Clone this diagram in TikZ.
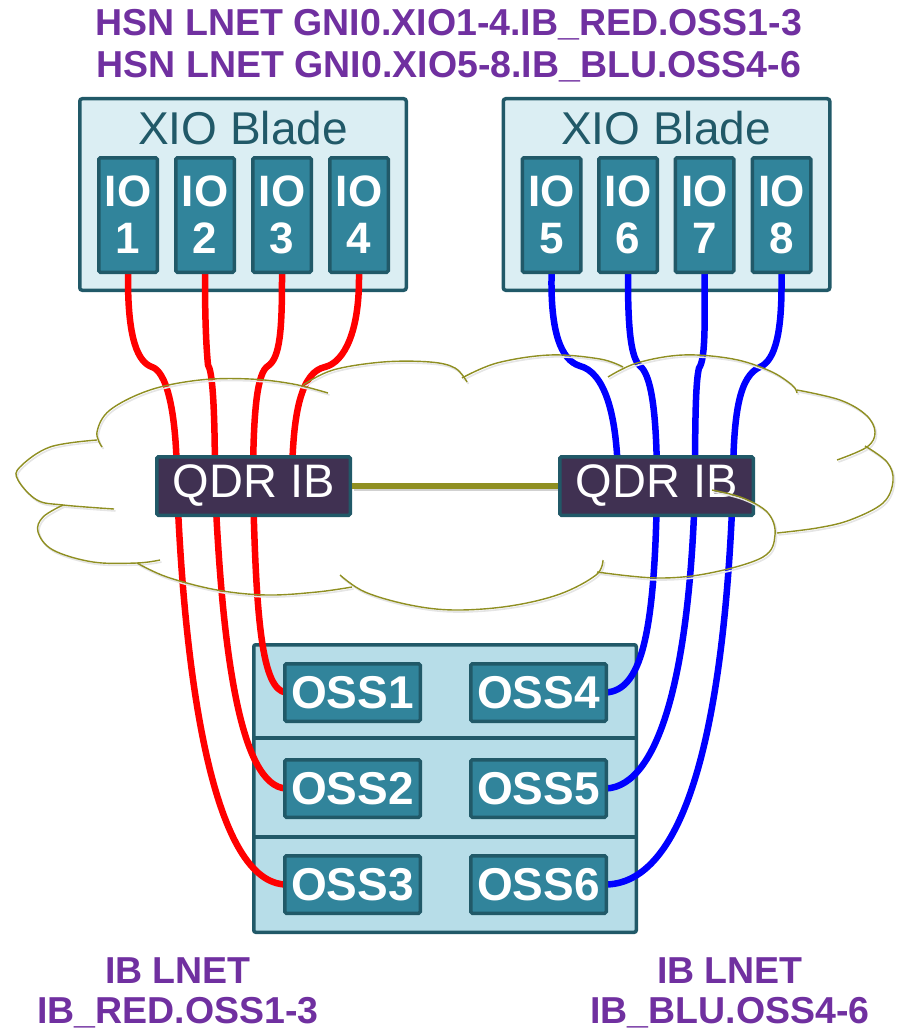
\documentclass[tikz,border=0pt]{standalone}
\usepackage{fontspec}
\setmainfont{Liberation Sans}
\usetikzlibrary{calc}
\definecolor{ttlpurple}{HTML}{7030A0}
\definecolor{darkteal}{HTML}{215968}
\definecolor{iofill}{HTML}{31849B}
\definecolor{bladefill}{HTML}{DBEEF3}
\definecolor{ossfill}{HTML}{B7DDE8}
\definecolor{qdrfill}{HTML}{403152}
\definecolor{cloudolive}{HTML}{8F8F22}
\definecolor{redcable}{HTML}{FF0000}
\definecolor{bluecable}{HTML}{0000FF}
\newcommand{\cloudoutline}[1]{%
  \draw[#1] plot[smooth, tension=0.6] coordinates {(102,447) (97,432) (110,410) (150,390) (200,380) (250,379) (293,384) (328,393)};
  \draw[#1] plot[smooth, tension=0.6] coordinates {(303,385) (333,370) (383,362) (430,362) (455,368) (467,382)};
  \draw[#1] plot[smooth, tension=0.6] coordinates {(462,378) (497,363) (550,355) (600,359) (623,367)};
  \draw[#1] plot[smooth, tension=0.6] coordinates {(608,377) (637,363) (683,355) (733,359) (770,371) (792,385) (797,393)};
  \draw[#1] plot[smooth, tension=0.6] coordinates {(797,390) (840,400) (866,415) (875,432) (867,447) (837,460)};
  \draw[#1] plot[smooth, tension=0.6] coordinates {(865,446) (887,462) (893,481) (883,503) (850,520) (817,528) (777,533)};
  \draw[#1] plot[smooth, tension=0.6] coordinates {(712,490) (743,498) (768,513) (775,535) (763,557) (710,573) (657,578) (597,572)};
  \draw[#1] plot[smooth, tension=0.6] coordinates {(340,575) (365,592) (410,605) (455,610) (510,606) (560,594) (596,575) (603,560)};
  \draw[#1] plot[smooth, tension=0.6] coordinates {(352,587) (317,592) (267,595) (217,590) (167,577) (137,563)};
  \draw[#1] plot[smooth, tension=0.6] coordinates {(160,560) (137,563) (93,562) (53,550) (38,532) (43,517) (63,505)};
  \draw[#1] plot[smooth, tension=0.6] coordinates {(114,509) (63,505) (37,500) (18,480) (20,467) (50,447) (97,440)};
}
\begin{document}
\begin{tikzpicture}[x=1pt,y=-1pt,
  title/.style={text=ttlpurple, font=\fontsize{37.5}{42}\selectfont\bfseries, inner sep=0pt, anchor=base},
  bladebox/.style={draw=darkteal, fill=bladefill, line width=3.5pt, rounded corners=2.5pt, minimum width=326.5pt, minimum height=191.5pt, inner sep=0pt},
  bladelabel/.style={text=darkteal, font=\fontsize{46}{50}\selectfont, inner sep=0pt, anchor=base},
  iobox/.style={draw=darkteal, fill=iofill, line width=3.5pt, rounded corners=1.5pt, minimum width=58.5pt, minimum height=114.5pt, inner sep=0pt, text=white, font=\fontsize{44}{47}\selectfont\bfseries, align=center},
  qdrbox/.style={draw=darkteal, fill=qdrfill, line width=3.5pt, rounded corners=1.5pt, minimum width=193.5pt, minimum height=58.5pt, inner sep=0pt, text=white, font=\fontsize{47}{50}\selectfont},
  rackbox/.style={draw=darkteal, fill=ossfill, line width=3.5pt, rounded corners=2pt, minimum width=382.5pt, minimum height=287.5pt, inner sep=0pt},
  divider/.style={draw=darkteal, line width=3.5pt},
  ossbox/.style={draw=darkteal, fill=iofill, line width=3.5pt, rounded corners=1.5pt, minimum width=135.5pt, minimum height=57.5pt, inner sep=0pt, text=white, font=\fontsize{46}{50}\selectfont\bfseries},
  cable/.style={line width=6.5pt, line cap=round, line join=round},
  redc/.style={cable, draw=redcable},
  bluec/.style={cable, draw=bluecable},
  link/.style={draw=cloudolive, line width=5.5pt},
  cloudline/.style={draw=cloudolive, line width=1.4pt},
  cloudshadow/.style={draw=black!10, line width=1.6pt, shift={(1.5,2)}}
]
\path[use as bounding box] (0,0) rectangle (900,1030);

% containers
\node[bladebox] (bladeL) at (243,194.5) {};
\node[bladebox] (bladeR) at (666.5,194.5) {};
\node[bladelabel] (lblL) at (243,145) {XIO Blade};
\node[bladelabel] (lblR) at (666,145) {XIO Blade};
\node[rackbox] (rack) at (445,788.5) {};
\draw[divider] (rack.west |- {(0,738)}) -- (rack.east |- {(0,738)});
\draw[divider] (rack.west |- {(0,837)}) -- (rack.east |- {(0,837)});

% ports
\coordinate (qLa) at (177,486);
\coordinate (qLb) at (215,486);
\coordinate (qLc) at (253,486);
\coordinate (qLd) at (292,486);
\coordinate (qRa) at (618,486);
\coordinate (qRb) at (657,486);
\coordinate (qRc) at (695,486);
\coordinate (qRd) at (733,486);

% IO boxes positions (for cable anchors)
\path (128,220) coordinate (c1) (205,220) coordinate (c2) (282,220) coordinate (c3) (359,220) coordinate (c4)
      (551.5,220) coordinate (c5) (628,220) coordinate (c6) (704.5,220) coordinate (c7) (781.5,220) coordinate (c8);

% link shadow
\draw[draw=black!18, line width=5pt, shift={(1.5,2.5)}] (352,486) -- (558,486);

% cables (upper)
\draw[redc] (c1) -- (128,279) .. controls (128,340) and (138,362) .. (152,367) .. controls (165,371) and (177,405) .. (qLa);
\draw[redc] (c2) -- (205,279) .. controls (205,330) and (207,355) .. (208,365) .. controls (212,371) and (215,400) .. (qLb);
\draw[redc] (c3) -- (282,279) .. controls (282,330) and (280,358) .. (268,366) .. controls (258,372) and (253,405) .. (qLc);
\draw[redc] (c4) -- (359,279) .. controls (359,330) and (345,362) .. (325,367) .. controls (302,372) and (292,410) .. (qLd);
\draw[bluec] (c5) -- (551.5,279) .. controls (551,330) and (560,360) .. (580,366) .. controls (603,372) and (618,410) .. (qRa);
\draw[bluec] (c6) -- (628,279) .. controls (628,330) and (631,358) .. (640,366) .. controls (650,374) and (657,405) .. (qRb);
\draw[bluec] (c7) -- (704.5,279) .. controls (705,330) and (705,360) .. (699,368) .. controls (696,380) and (695,410) .. (qRc);
\draw[bluec] (c8) -- (781.5,279) .. controls (782,330) and (776,360) .. (760,367) .. controls (740,376) and (733,410) .. (qRd);

% OSS boxes positions
\path (352.5,692.5) coordinate (o1) (352.5,788.5) coordinate (o2) (352.5,884.5) coordinate (o3)
      (538.5,692.5) coordinate (o4) (538.5,788.5) coordinate (o5) (538.5,884.5) coordinate (o6);

% cables (lower)
\draw[redc] (qLc) .. controls (256,620) and (262,690) .. (286,692.5) -- (o1);
\draw[redc] (qLb) .. controls (222,650) and (240,786) .. (286,788.5) -- (o2);
\draw[redc] (qLa) .. controls (185,690) and (215,883) .. (286,884.5) -- (o3);
\draw[bluec] (qRb) .. controls (655,640) and (640,690) .. (606,692.5) -- (o4);
\draw[bluec] (qRc) .. controls (690,670) and (660,786) .. (606,788.5) -- (o5);
\draw[bluec] (qRd) .. controls (725,710) and (690,883) .. (606,884.5) -- (o6);

% boxes
\node[iobox, yshift=5pt] (io1) at (c1) {IO\\1};
\node[iobox, yshift=5pt] (io2) at (c2) {IO\\2};
\node[iobox, yshift=5pt] (io3) at (c3) {IO\\3};
\node[iobox, yshift=5pt] (io4) at (c4) {IO\\4};
\node[iobox, yshift=5pt] (io5) at (c5) {IO\\5};
\node[iobox, yshift=5pt] (io6) at (c6) {IO\\6};
\node[iobox, yshift=5pt] (io7) at (c7) {IO\\7};
\node[iobox, yshift=5pt] (io8) at (c8) {IO\\8};

\node[qdrbox] (qdrL) at (253.5,486) {QDR IB};
\node[qdrbox] (qdrR) at (656.5,486) {QDR IB};
\draw[link] (qdrL.east) -- (qdrR.west);

\node[ossbox] (oss1) at (o1) {OSS1};
\node[ossbox] (oss2) at (o2) {OSS2};
\node[ossbox] (oss3) at (o3) {OSS3};
\node[ossbox] (oss4) at (o4) {OSS4};
\node[ossbox] (oss5) at (o5) {OSS5};
\node[ossbox] (oss6) at (o6) {OSS6};

% cloud
\cloudoutline{cloudshadow}
\cloudoutline{cloudline}

% texts
\node[title] (t1) at (449,36) {HSN LNET GNI0.XIO1-4.IB\_RED.OSS1-3};
\node[title] (t2) at (449,78) {HSN LNET GNI0.XIO5-8.IB\_BLU.OSS4-6};
\node[title] (b1) at (178,983) {IB LNET};
\node[title] (b2) at (178,1023) {IB\_RED.OSS1-3};
\node[title] (b3) at (730,983) {IB LNET};
\node[title] (b4) at (730,1023) {IB\_BLU.OSS4-6};
\end{tikzpicture}
\end{document}
